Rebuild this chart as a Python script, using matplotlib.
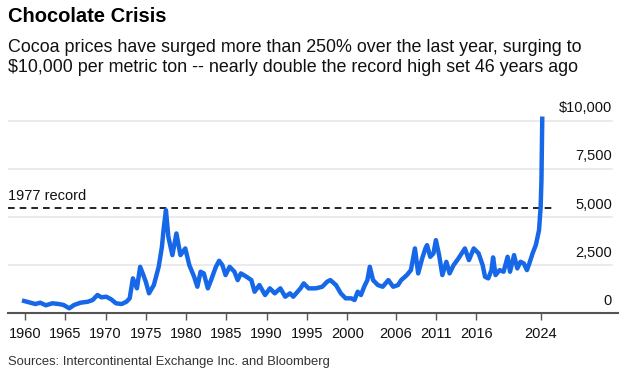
import matplotlib.pyplot as plt
import matplotlib.font_manager as fm

# cocoa price, $ per metric ton (decimal years)
years = [1959.9, 1960.7, 1961.3, 1961.9, 1962.6, 1963.4, 1964.2, 1964.8, 1965.5, 1966.1,
         1966.9, 1967.8, 1968.4, 1969.0, 1969.5, 1970.1, 1970.7, 1971.3, 1972.0, 1972.6,
         1973.0, 1973.4, 1973.9, 1974.3, 1974.7, 1975.0, 1975.4, 1976.0, 1976.6, 1977.0,
         1977.2, 1977.5, 1977.8, 1978.3, 1978.8, 1979.3, 1979.9, 1980.4, 1981.0, 1981.4,
         1981.8, 1982.2, 1982.7, 1983.1, 1983.7, 1984.1, 1984.5, 1984.9, 1985.4, 1986.0,
         1986.4, 1986.8, 1987.5, 1988.1, 1988.5, 1989.1, 1989.8, 1990.4, 1991.0, 1991.7,
         1992.3, 1992.9, 1993.3, 1994.2, 1994.6, 1995.2, 1996.1, 1996.9, 1997.5, 1997.9,
         1998.6, 1999.2, 1999.8, 2000.5, 2000.9, 2001.3, 2001.7, 2002.1, 2002.5, 2002.8,
         2003.2, 2003.8, 2004.4, 2005.1, 2005.7, 2006.3, 2006.7, 2007.4, 2007.9, 2008.4,
         2008.8, 2009.3, 2009.7, 2009.9, 2010.3, 2010.7, 2011.0, 2011.4, 2011.8, 2012.3,
         2012.7, 2013.2, 2013.8, 2014.6, 2015.1, 2015.7, 2016.3, 2016.8, 2017.1, 2017.5,
         2017.9, 2018.1, 2018.4, 2018.9, 2019.4, 2019.9, 2020.2, 2020.7, 2021.1, 2021.5,
         2021.9, 2022.3, 2022.6, 2023.0, 2023.4, 2023.8, 2024.0, 2024.1, 2024.2]
prices = [637, 549, 481, 549, 414, 518, 481, 430, 259, 430,
          549, 600, 688, 948, 828, 860, 725, 518, 481, 600,
          776, 1812, 1294, 2412, 1982, 1636, 1035, 1465, 2412, 3447,
          4312, 5347, 3965, 3018, 4141, 3018, 3364, 2500, 1894, 1377,
          2156, 2070, 1294, 1723, 2412, 2723, 2500, 1982, 2412, 2156,
          1723, 2070, 1894, 1723, 1118, 1465, 948, 1294, 1035, 1294,
          860, 1035, 860, 1294, 1553, 1294, 1294, 1377, 1636, 1723,
          1465, 1035, 776, 776, 688, 1118, 948, 1377, 1723, 2412,
          1723, 1465, 1377, 1723, 1377, 1465, 1723, 1982, 2241, 3364,
          2070, 2847, 3364, 3535, 2930, 3106, 3794, 3018, 1982, 2671,
          2070, 2500, 2847, 3364, 2759, 3364, 3106, 2500, 1894, 1812,
          2241, 2899, 1982, 2241, 2156, 2930, 2156, 3018, 2329, 2671,
          2588, 2241, 2588, 3106, 3535, 4312, 5518, 6900, 10093]

record_1977 = 5450
xtick_years = [1960, 1965, 1970, 1975, 1980, 1985, 1990, 1995, 2000, 2006, 2011, 2016, 2024]
ytick_vals = [0, 2500, 5000, 7500, 10000]
ytick_labels = ["0", "2,500", "5,000", "7,500", "$10,000"]

plt.rcParams['font.family'] = ['Liberation Sans', 'DejaVu Sans']
names = set(f.name for f in fm.fontManager.ttflist)
narrow = 'Liberation Sans Narrow' if 'Liberation Sans Narrow' in names else 'Liberation Sans'

blue = '#1668e8'
fig = plt.figure(figsize=(6.25, 3.78), dpi=100)
ax = fig.add_axes([8 / 625, 0.1712, 610 / 625, 0.5354])

ax.set_xlim(1957.9, 2033.6)
ax.set_ylim(0, 10500)

grid_end = (612 - 8) / 610
for v in ytick_vals[1:]:
    ax.axhline(v, xmin=0, xmax=grid_end, color='#e8e8e8', lw=1.2, zorder=1)

for v, lab in zip(ytick_vals, ytick_labels):
    ax.text(grid_end, v + 280, lab, transform=ax.get_yaxis_transform(),
            ha='right', va='bottom', fontsize=10.5, color='#111111')

dash_end = (553 - 8) / 610
ax.axhline(record_1977, xmin=0, xmax=dash_end, color='black', lw=1.2,
           linestyle=(0, (4, 3)), zorder=2)
ax.text(0, record_1977 + 250, "1977 record", transform=ax.get_yaxis_transform(),
        ha='left', va='bottom', fontsize=10.5, color='#111111')

ax.plot(years, prices, color=blue, lw=3.2, solid_joinstyle='round', zorder=3, clip_on=False)

for s in ['top', 'right', 'left']:
    ax.spines[s].set_visible(False)
ax.spines['bottom'].set_color('#555555')
ax.spines['bottom'].set_linewidth(1.5)
ax.set_yticks([])
ax.set_xticks(xtick_years)
ax.set_xticklabels([str(y) for y in xtick_years])
ax.tick_params(axis='x', length=5, width=1, color='#555555', labelsize=10.5,
               labelcolor='#111111', pad=5)

fig.text(8 / 625, 1 - 7 / 378, "Chocolate Crisis", ha='left', va='top',
         fontsize=14.5, fontweight='bold', color='#000000')
fig.text(8 / 625, 1 - 39 / 378,
         "Cocoa prices have surged more than 250% over the last year, surging to\n"
         "$10,000 per metric ton -- nearly double the record high set 46 years ago",
         ha='left', va='top', fontsize=12.9, color='#111111', linespacing=1.2)
fig.text(8 / 625, 1 - 362 / 378, "Sources: Intercontinental Exchange Inc. and Bloomberg",
         ha='left', va='center', fontsize=9.4, color='#333333', family=narrow)

fig.savefig("out.png", dpi=100, facecolor='white')
